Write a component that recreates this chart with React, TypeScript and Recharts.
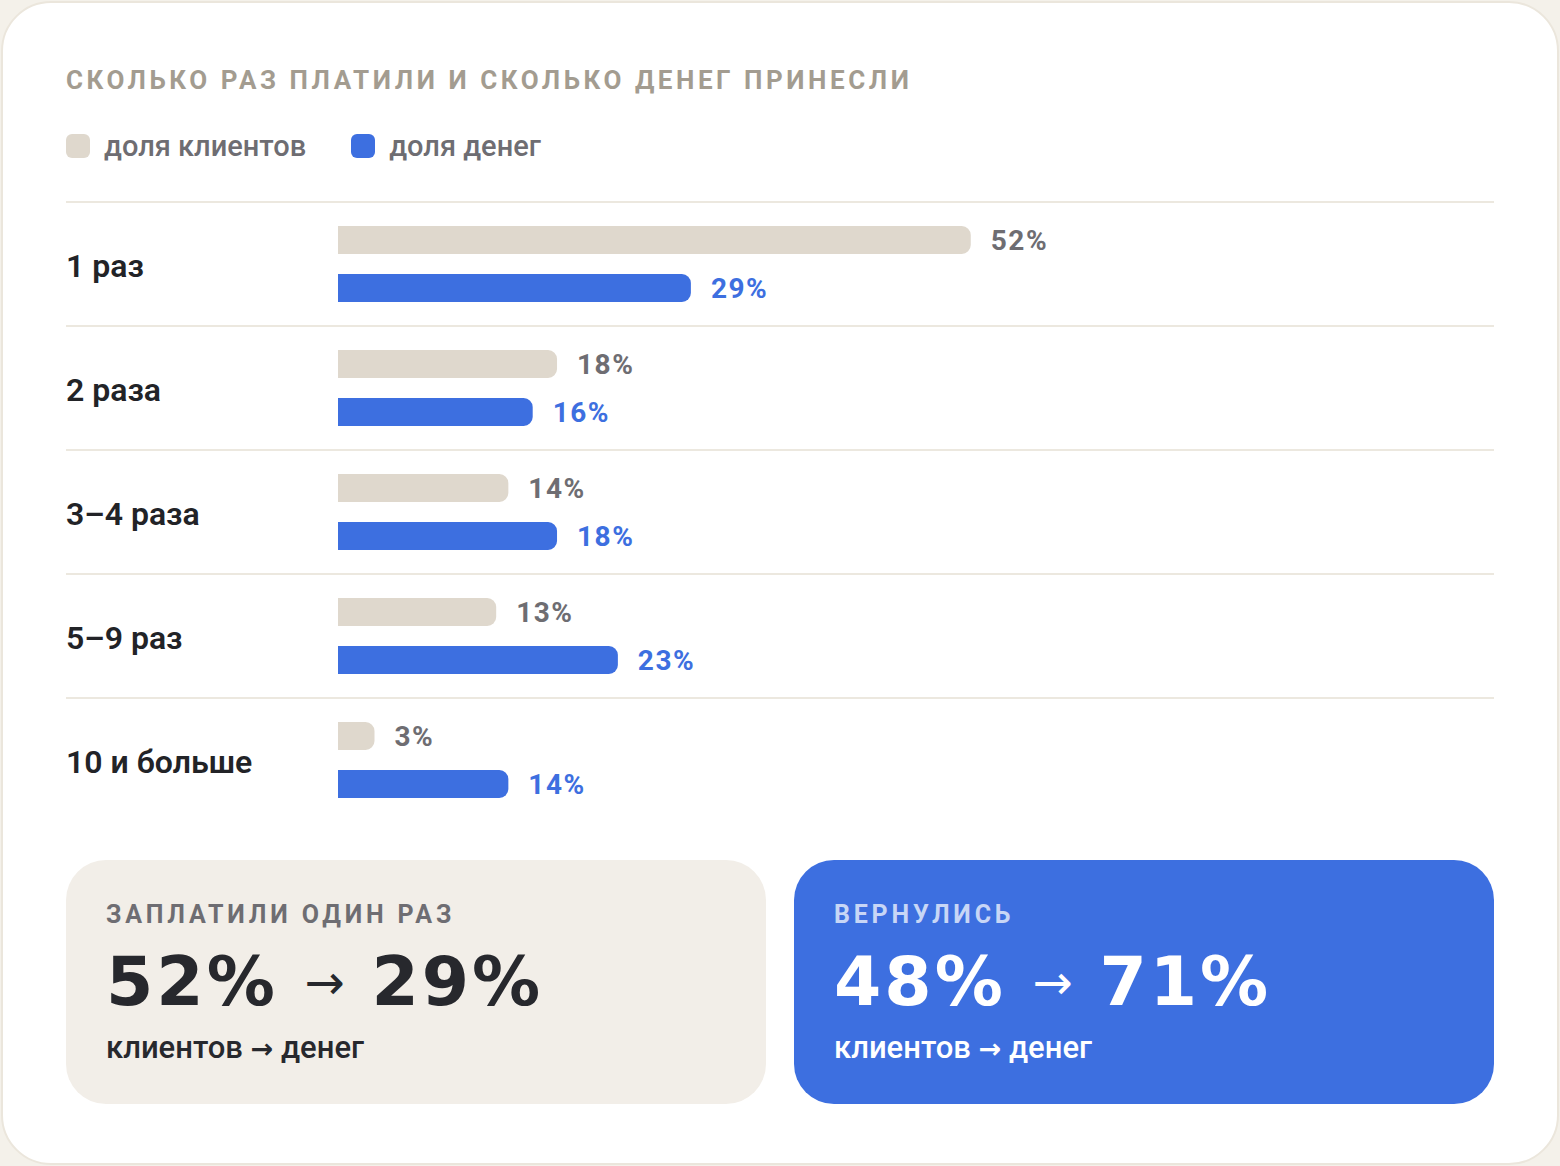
import React from 'react';
import { BarChart, Bar, XAxis, YAxis, LabelList } from 'recharts';

const categories = ['1 раз', '2 раза', '3–4 раза', '5–9 раз', '10 и больше'];
const clientShare = [52, 18, 14, 13, 3];
const moneyShare = [29, 16, 18, 23, 14];
const seriesNames = ['доля клиентов', 'доля денег'];

const oneTimeShares = [52, 29];
const returnedShares = [48, 71];

const GREY = '#DFD8CD';
const BLUE = '#3D6FE0';
const ROW_H = 124;

const rows = categories.map((name, i) => ({
  name,
  clients: clientShare[i],
  money: moneyShare[i],
}));

const labelFont = 'Roboto, "Noto Sans", sans-serif';
const bigFont = '"DejaVu Sans", Inter, sans-serif';

function CategoryTick(props: any) {
  const { y, payload } = props;
  const top = y - ROW_H / 2;
  return (
    <g>
      <line x1={0} x2={1428} y1={top} y2={top} stroke="#ECE8DF" strokeWidth={2} />
      <text
        x={0}
        y={y + 2}
        dominantBaseline="central"
        fill="#222327"
        fontSize={32}
        fontWeight={600}
        fontFamily={labelFont}
      >
        {payload.value}
      </text>
    </g>
  );
}

function SummaryCard({ title, values, dark }: { title: string; values: number[]; dark: boolean }) {
  const fg = dark ? '#27282D' : '#FFFFFF';
  return (
    <div
      style={{
        width: 700,
        height: 244,
        borderRadius: 40,
        background: dark ? '#F2EEE8' : BLUE,
        boxSizing: 'border-box',
        padding: '40px 40px 0 40px',
        color: fg,
      }}
    >
      <div
        style={{
          fontFamily: labelFont,
          fontWeight: 700,
          fontSize: 25,
          letterSpacing: 3.8,
          color: dark ? '#6E6D72' : 'rgba(255,255,255,0.72)',
          lineHeight: '30px',
        }}
      >
        {title}
      </div>
      <div
        style={{
          fontFamily: bigFont,
          fontWeight: 700,
          fontSize: 68,
          letterSpacing: 3,
          lineHeight: '80px',
          marginTop: 12,
          whiteSpace: 'nowrap',
        }}
      >
        {values[0]}%{' '}
        <span style={{ fontWeight: 400, fontSize: 48, letterSpacing: 0, position: 'relative', top: -6 }}>→</span>{' '}
        {values[1]}%
      </div>
      <div
        style={{
          fontFamily: labelFont,
          fontWeight: 500,
          fontSize: 31,
          lineHeight: '34px',
          marginTop: 3,
        }}
      >
        клиентов <span style={{ fontFamily: bigFont, fontSize: 27, fontWeight: 700 }}>→</span> денег
      </div>
    </div>
  );
}

export default function App() {
  return (
    <div
      style={{
        position: 'absolute',
        left: 0,
        top: 0,
        width: 1560,
        height: 1166,
        background: '#F4F1EA',
      }}
    >
      <div
        style={{
          position: 'absolute',
          left: 1,
          top: 1,
          width: 1558,
          height: 1164,
          boxSizing: 'border-box',
          border: '2px solid #EBE6DC',
          borderRadius: 50,
          background: '#FFFFFF',
        }}
      />
      <div
        style={{
          position: 'absolute',
          left: 66,
          top: 62,
          fontFamily: labelFont,
          fontWeight: 700,
          fontSize: 26,
          letterSpacing: 3.55,
          color: '#A39C90',
          lineHeight: '36px',
          whiteSpace: 'nowrap',
        }}
      >
        СКОЛЬКО РАЗ ПЛАТИЛИ И СКОЛЬКО ДЕНЕГ ПРИНЕСЛИ
      </div>
      <div
        style={{
          position: 'absolute',
          left: 66,
          top: 128,
          display: 'flex',
          alignItems: 'center',
          fontFamily: labelFont,
          fontWeight: 500,
          fontSize: 29,
          color: '#6E6D72',
          lineHeight: '36px',
        }}
      >
        {seriesNames.map((s, i) => (
          <div key={s} style={{ display: 'flex', alignItems: 'center', marginRight: 45 }}>
            <div
              style={{
                width: 24,
                height: 24,
                borderRadius: 6,
                background: i === 0 ? GREY : BLUE,
                marginRight: 14,
              }}
            />
            <span>{s}</span>
          </div>
        ))}
      </div>
      <div style={{ position: 'absolute', left: 66, top: 201 }}>
        <BarChart
          width={1428}
          height={ROW_H * categories.length + 2}
          data={rows}
          layout="vertical"
          margin={{ top: 1, right: 0, bottom: 1, left: 0 }}
          barGap={20}
        >
          <XAxis type="number" hide domain={[0, 95]} />
          <YAxis
            type="category"
            dataKey="name"
            width={272}
            axisLine={false}
            tickLine={false}
            interval={0}
            tick={<CategoryTick />}
          />
          <Bar dataKey="clients" name={seriesNames[0]} fill={GREY} barSize={28} radius={[0, 9, 9, 0]} isAnimationActive={false}>
            <LabelList
              dataKey="clients"
              position="right"
              offset={20}
              formatter={(v: any) => `${v}%`}
              fill="#6E6D72"
              fontSize={28}
              fontWeight={700}
              fontFamily={labelFont}
              letterSpacing={1.5}
            />
          </Bar>
          <Bar dataKey="money" name={seriesNames[1]} fill={BLUE} barSize={28} radius={[0, 9, 9, 0]} isAnimationActive={false}>
            <LabelList
              dataKey="money"
              position="right"
              offset={20}
              formatter={(v: any) => `${v}%`}
              fill={BLUE}
              fontSize={28}
              fontWeight={700}
              fontFamily={labelFont}
              letterSpacing={1.5}
            />
          </Bar>
        </BarChart>
      </div>
      <div style={{ position: 'absolute', left: 66, top: 860 }}>
        <SummaryCard title="ЗАПЛАТИЛИ ОДИН РАЗ" values={oneTimeShares} dark />
      </div>
      <div style={{ position: 'absolute', left: 794, top: 860 }}>
        <SummaryCard title="ВЕРНУЛИСЬ" values={returnedShares} dark={false} />
      </div>
    </div>
  );
}
